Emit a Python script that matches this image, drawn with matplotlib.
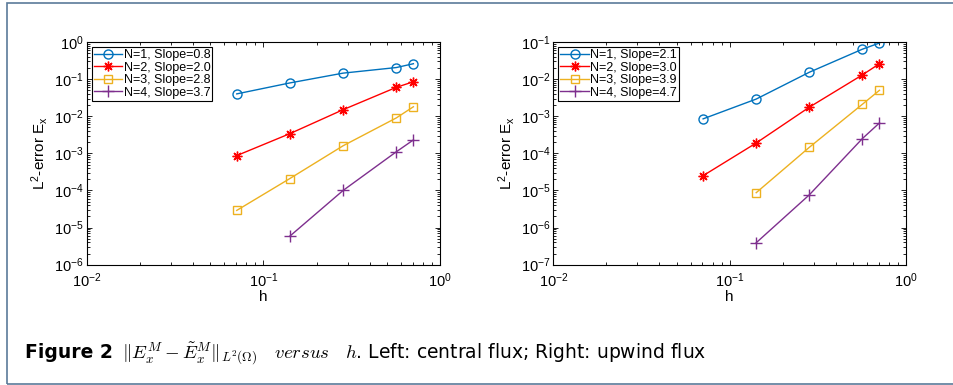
import matplotlib
matplotlib.use("Agg")
import matplotlib.pyplot as plt
from matplotlib.patches import Rectangle
from matplotlib.ticker import LogLocator, NullFormatter

plt.rcParams['font.family'] = ['Liberation Sans', 'DejaVu Sans']
plt.rcParams['mathtext.fontset'] = 'custom'
plt.rcParams['mathtext.rm'] = 'Liberation Sans'
plt.rcParams['mathtext.it'] = 'Liberation Sans:italic'
plt.rcParams['mathtext.bf'] = 'Liberation Sans:bold'

# mesh sizes
h = [0.0707, 0.1414, 0.2828, 0.5657, 0.7071]
h_short = [0.1414, 0.2828, 0.5657, 0.7071]

# left panel: central flux
central_n1 = [0.040, 0.079, 0.145, 0.205, 0.26]
central_n2 = [8.7e-4, 3.4e-3, 0.015, 0.060, 0.085]
central_n3 = [2.9e-5, 2.1e-4, 1.6e-3, 9.0e-3, 0.018]
central_n4 = [5.9e-6, 1.0e-4, 1.1e-3, 2.3e-3]
central_labels = ["N=1, Slope=0.8", "N=2, Slope=2.0", "N=3, Slope=2.8", "N=4, Slope=3.7"]

# right panel: upwind flux
upwind_n1 = [8.5e-4, 2.9e-3, 0.0153, 0.064, 0.094]
upwind_n2 = [2.5e-5, 1.9e-4, 1.75e-3, 0.013, 0.026]
upwind_n3 = [8.7e-6, 1.45e-4, 2.1e-3, 5.0e-3]
upwind_n4 = [3.9e-7, 7.6e-6, 2.5e-4, 6.6e-4]
upwind_labels = ["N=1, Slope=2.1", "N=2, Slope=3.0", "N=3, Slope=3.9", "N=4, Slope=4.7"]

colors = ["#0072BD", "#FF0000", "#EDB120", "#7E2F8E"]
markers = ["o", (8, 2, 0), "s", "+"]
msizes = [6.5, 7, 5.5, 9]


def draw_panel(ax, series, labels, ylim):
    for (x, y), lab, c, m, ms in zip(series, labels, colors, markers, msizes):
        ax.plot(x, y, color=c, marker=m, markersize=ms, markerfacecolor='none',
                markeredgewidth=1.0, linewidth=1.0, label=lab)
    ax.set_xscale('log')
    ax.set_yscale('log')
    ax.set_xlim(1e-2, 1)
    ax.set_ylim(*ylim)
    ax.xaxis.set_major_locator(LogLocator(base=10, numticks=10))
    ax.yaxis.set_major_locator(LogLocator(base=10, numticks=12))
    ax.xaxis.set_minor_locator(LogLocator(base=10, subs=range(2, 10), numticks=12))
    ax.yaxis.set_minor_locator(LogLocator(base=10, subs=range(2, 10), numticks=12))
    ax.xaxis.set_minor_formatter(NullFormatter())
    ax.yaxis.set_minor_formatter(NullFormatter())
    ax.tick_params(which='both', direction='in', top=True, right=True, labelsize=10.5, width=0.6)
    ax.tick_params(which='major', length=3.5)
    ax.tick_params(axis='x', which='major', pad=5)
    ax.tick_params(axis='y', which='major', pad=2)
    ax.tick_params(which='minor', length=2)
    for sp in ax.spines.values():
        sp.set_linewidth(0.8)
    ax.set_xlabel("h", fontsize=11, labelpad=0)
    ax.set_ylabel(r"L$^{2}$-error E$_{\mathrm{x}}$", fontsize=11, labelpad=3)
    leg = ax.legend(loc='upper left', fontsize=9, frameon=True, fancybox=False,
                    edgecolor='black', framealpha=1, borderpad=0.15, labelspacing=0.05,
                    handlelength=2.3, handletextpad=0.1, borderaxespad=0.4)
    leg.get_frame().set_linewidth(0.8)


fig = plt.figure(figsize=(9.54, 3.85), dpi=100)
ax1 = fig.add_axes([0.0909, 0.3125, 0.3703, 0.5784])
ax2 = fig.add_axes([0.580, 0.3125, 0.3697, 0.5784])

draw_panel(ax1, [(h, central_n1), (h, central_n2), (h, central_n3), (h_short, central_n4)],
           central_labels, (1e-6, 1))
draw_panel(ax2, [(h, upwind_n1), (h, upwind_n2), (h_short, upwind_n3), (h_short, upwind_n4)],
           upwind_labels, (1e-7, 1e-1))

# frame around the figure
fig.patches.append(Rectangle((7 / 954, 1 / 385), 1.2, 1 - 4 / 385, transform=fig.transFigure,
                             fill=False, edgecolor='#5b7a99', linewidth=1.2))

# caption
t1 = fig.text(25 / 954, 1 - 358 / 385, "Figure 2", family='DejaVu Sans', weight='bold',
              fontsize=13.5, va='baseline')
fig.canvas.draw()
bb = t1.get_window_extent()
x2 = (bb.x1 + 9) / fig.bbox.width
fig.text(x2, 1 - 358 / 385,
         r"$\|E_x^M - \tilde{E}_x^M\|_{L^2(\Omega)}\quad versus\quad h$. Left: central flux; Right: upwind flux",
         family='DejaVu Sans', math_fontfamily='cm', fontsize=13.5, va='baseline')

fig.savefig("out.png", dpi=100)
